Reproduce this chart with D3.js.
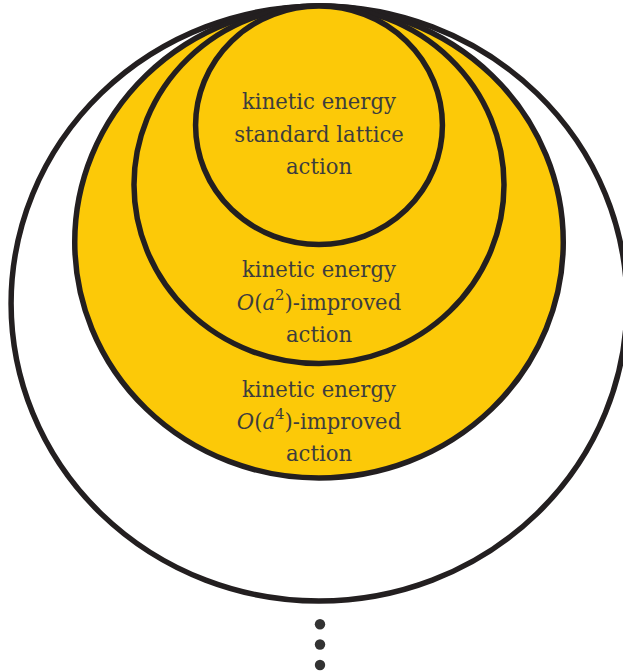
<!DOCTYPE html>
<html>
<head>
<meta charset="utf-8">
<script src="https://cdn.jsdelivr.net/npm/d3@7"></script>
<style>
  html, body { margin: 0; padding: 0; background: #fff; }
  svg { display: block; }
</style>
</head>
<body>
<script>
// ---- data ----
const rings = ["outer", "O(a^4)", "O(a^2)", "standard"];          // drawn outer -> inner
const ringRadii = [297.5, 236, 178.75, 119.25];                   // vertical radius units
const ringFills = ["#ffffff", "#fcc908", "#fcc908", "#fcc908"];
const labelLines = [
  [["kinetic energy"], ["standard lattice"], ["action"]],
  [["kinetic energy"], ["O", "(", "a", "2", ")-improved"], ["action"]],
  [["kinetic energy"], ["O", "(", "a", "4", ")-improved"], ["action"]]
];
const labelBaselines = [[108.7, 142.2, 174], [277.3, 310, 341.7], [396.7, 429.3, 460.7]];
const dotsY = [624.3, 644.5, 665];

// ---- layout ----
const W = 623, H = 672;
const cx = 319, topY = 6, aspect = 1.035;
const r = d3.scaleLinear().domain([0, 297.5]).range([0, 297.5]);
const FONT = "'DejaVu Serif', serif";
const fontSize = 21.5;

const svg = d3.select("body").append("svg").attr("width", W).attr("height", H);

svg.selectAll("ellipse.ring")
  .data(rings.map((k, i) => ({ k, rad: ringRadii[i], fill: ringFills[i] })))
  .join("ellipse")
  .attr("class", "ring")
  .attr("cx", cx)
  .attr("cy", d => topY + r(d.rad))
  .attr("rx", d => r(d.rad) * aspect)
  .attr("ry", d => r(d.rad))
  .attr("fill", d => d.fill)
  .attr("stroke", "#231f20")
  .attr("stroke-width", 5.5);

// horizontal compression so that "kinetic energy" is ~154px wide (Times-like proportions)
const probe = svg.append("text").style("font-family", FONT).attr("font-size", fontSize).text("kinetic energy");
const wk = probe.node().getComputedTextLength() || 180;
probe.remove();
const sx = Math.min(1, 154 / wk);
const supSize = fontSize * 0.7;
const supShift = fontSize * 0.48;

labelLines.forEach((block, bi) => {
  block.forEach((parts, li) => {
    const t = svg.append("text")
      .attr("transform", `translate(${cx},${labelBaselines[bi][li]}) scale(${sx},1)`)
      .attr("text-anchor", "middle")
      .style("font-family", FONT)
      .attr("font-size", fontSize)
      .attr("fill", "#3d3d3d");
    if (parts.length === 1) {
      t.text(parts[0]);
    } else {
      t.append("tspan").attr("font-style", "italic").text(parts[0]);
      t.append("tspan").text(parts[1]);
      t.append("tspan").attr("font-style", "italic").text(parts[2]);
      t.append("tspan").attr("font-size", supSize).attr("dy", -supShift).text(parts[3]);
      t.append("tspan").attr("dy", supShift).text(parts[4]);
    }
  });
});

svg.selectAll("circle.dot")
  .data(dotsY)
  .join("circle")
  .attr("class", "dot")
  .attr("cx", 320)
  .attr("cy", d => d)
  .attr("r", 5.2)
  .attr("fill", "#333333");
</script>
</body>
</html>
